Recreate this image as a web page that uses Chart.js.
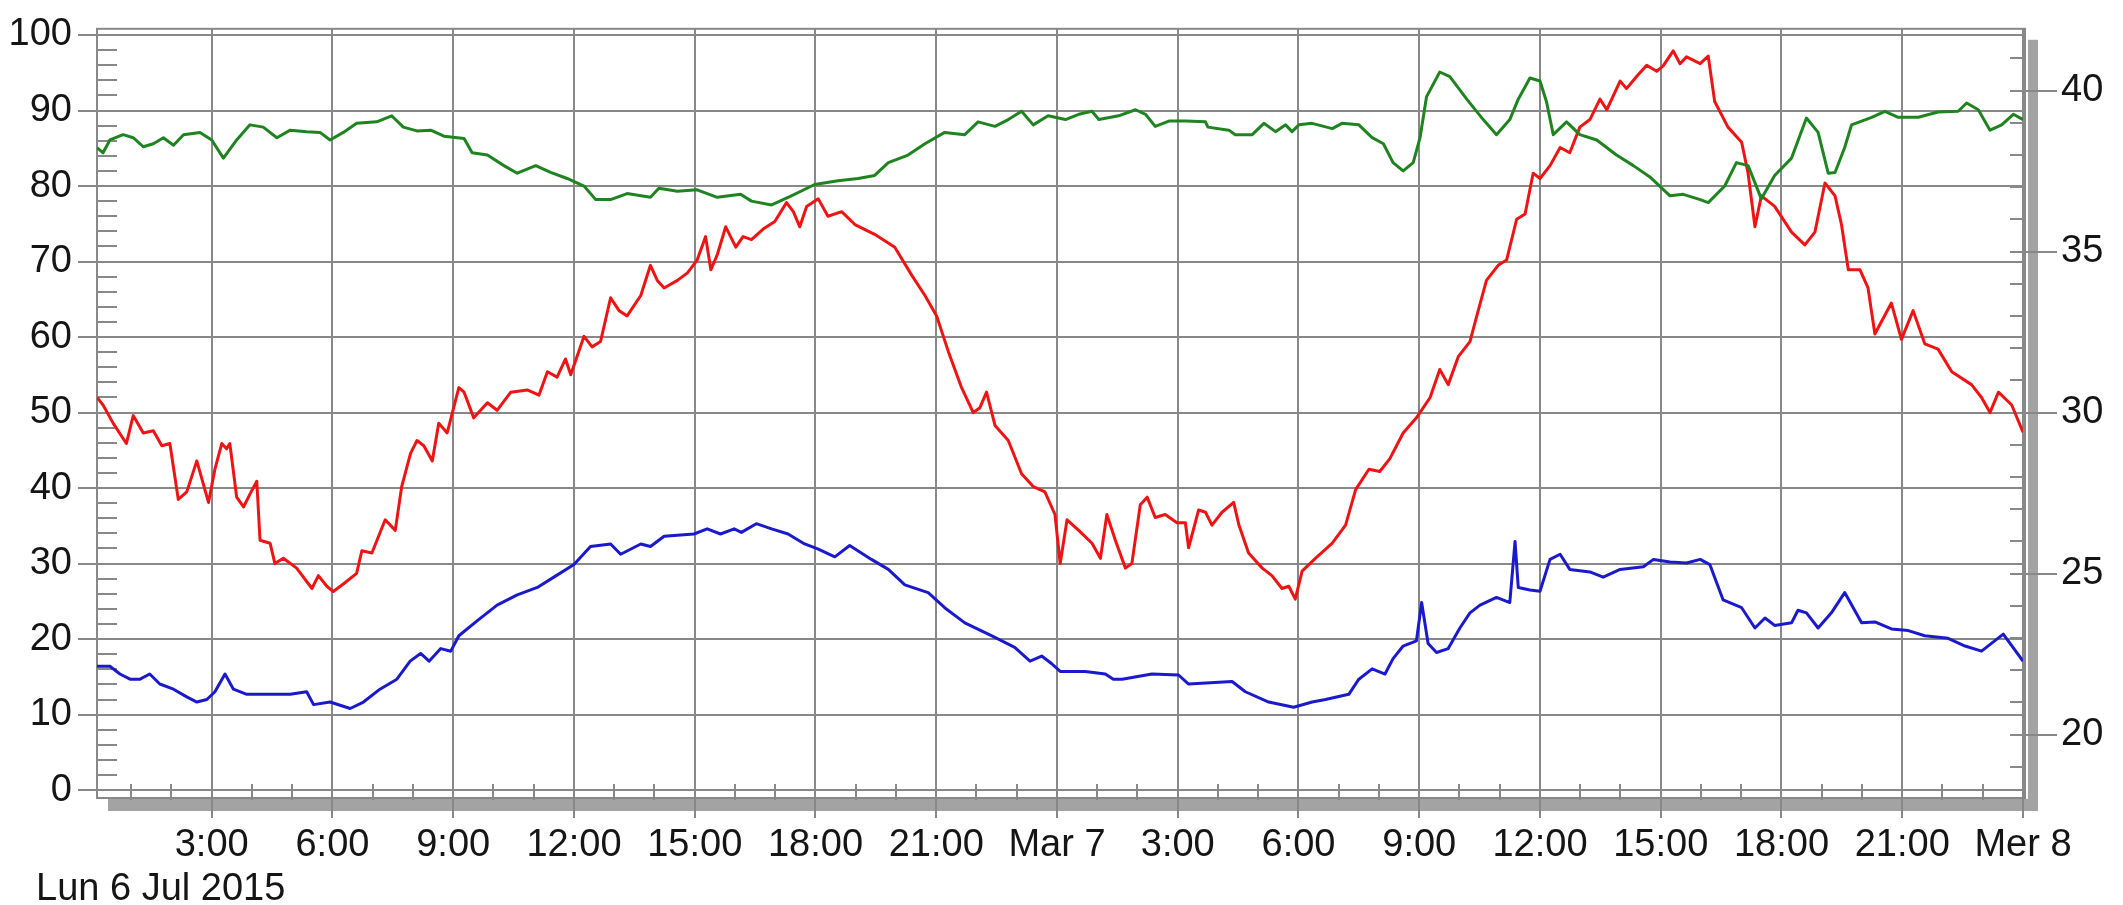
<!DOCTYPE html>
<html><head><meta charset="utf-8">
<script src="https://cdn.jsdelivr.net/npm/chart.js@4/dist/chart.umd.min.js"></script>
<style>html,body{margin:0;padding:0;background:#fff;overflow:hidden}#wrap{width:2123px;height:905px}</style>
</head><body><div id="wrap"><canvas id="c" width="2123" height="905"></canvas></div>
<script>
// ---- tick labels ----
const xTickHours = [3,6,9,12,15,18,21,24,27,30,33,36,39,42,45,48];
const xTickLabels = ["3:00","6:00","9:00","12:00","15:00","18:00","21:00","Mar 7","3:00","6:00","9:00","12:00","15:00","18:00","21:00","Mer 8"];
const dateLabel = "Lun 6 Jul 2015";
const leftTicks = [0,10,20,30,40,50,60,70,80,90,100];
const rightTicks = [20,25,30,35,40];

// ---- series (hours since Lun 6 Jul 00:00) ----
const greenHours = [0.15,0.30,0.47,0.80,1.05,1.30,1.55,1.80,2.05,2.30,2.71,3.00,3.29,3.62,3.95,4.28,4.62,4.95,5.36,5.69,5.94,6.27,6.60,7.10,7.47,7.76,8.10,8.44,8.77,9.27,9.47,9.85,10.26,10.59,11.05,11.42,11.83,12.25,12.54,12.91,13.32,13.90,14.11,14.57,15.06,15.56,16.14,16.41,16.91,17.40,17.98,18.56,19.06,19.47,19.81,20.30,20.72,21.21,21.71,22.04,22.46,22.79,23.12,23.41,23.78,24.21,24.54,24.87,25.04,25.53,25.95,26.20,26.44,26.78,27.19,27.69,27.75,28.27,28.43,28.85,29.14,29.43,29.68,29.84,30.01,30.34,30.84,31.08,31.50,31.83,32.11,32.35,32.60,32.85,33.02,33.18,33.51,33.76,34.18,34.59,34.92,35.25,35.46,35.75,36.00,36.16,36.33,36.66,36.99,37.41,37.90,38.32,38.73,39.23,39.56,39.98,40.18,40.59,40.88,41.17,41.50,41.83,42.25,42.62,42.91,43.16,43.33,43.57,43.74,44.24,44.57,44.90,45.40,45.89,46.39,46.60,46.89,47.18,47.47,47.76,48.00];
const greenValues = [85.1,84.4,86.1,86.8,86.4,85.2,85.6,86.4,85.4,86.8,87.1,86.1,83.7,86.1,88.1,87.8,86.4,87.4,87.2,87.1,86.1,87.1,88.3,88.5,89.3,87.8,87.3,87.4,86.6,86.3,84.4,84.1,82.7,81.7,82.7,81.8,81.0,80.0,78.2,78.2,79.0,78.5,79.7,79.3,79.5,78.5,78.9,78.0,77.5,78.7,80.2,80.7,81.0,81.4,83.1,84.1,85.6,87.1,86.8,88.5,87.9,88.8,89.9,88.1,89.3,88.8,89.5,89.9,88.8,89.3,90.1,89.5,87.9,88.6,88.6,88.5,87.8,87.4,86.8,86.8,88.3,87.2,88.1,87.2,88.1,88.3,87.6,88.3,88.1,86.4,85.6,83.1,82.0,83.1,86.4,91.8,95.1,94.5,91.5,88.8,86.8,88.8,91.5,94.3,93.9,91.2,86.8,88.5,86.8,86.1,84.1,82.7,81.2,78.7,78.9,78.2,77.8,80.0,83.1,82.7,78.3,81.4,83.7,89.0,87.1,81.7,81.8,85.1,88.1,89.1,89.9,89.1,89.1,89.8,89.9,91.0,90.1,87.4,88.1,89.5,88.8];

const redHours = [0.15,0.30,0.55,0.88,1.05,1.30,1.55,1.76,1.96,2.17,2.38,2.63,2.92,3.08,3.25,3.37,3.45,3.62,3.79,3.95,4.12,4.20,4.45,4.57,4.78,5.11,5.49,5.65,5.86,6.02,6.27,6.60,6.73,6.98,7.31,7.56,7.72,7.94,8.10,8.27,8.48,8.64,8.85,9.14,9.27,9.51,9.85,10.09,10.43,10.84,11.13,11.34,11.58,11.79,11.92,12.25,12.45,12.66,12.91,13.12,13.32,13.66,13.90,14.07,14.24,14.57,14.82,15.06,15.27,15.40,15.56,15.77,16.02,16.20,16.41,16.70,16.99,17.28,17.45,17.61,17.78,18.07,18.31,18.65,18.98,19.47,19.97,20.39,20.72,21.01,21.30,21.63,21.92,22.08,22.25,22.46,22.79,23.12,23.41,23.70,23.95,24.08,24.25,24.54,24.87,25.08,25.24,25.45,25.70,25.86,26.07,26.24,26.44,26.69,26.98,27.19,27.27,27.52,27.69,27.85,28.10,28.39,28.52,28.76,29.10,29.34,29.59,29.76,29.92,30.09,30.42,30.84,31.17,31.42,31.75,32.02,32.27,32.60,32.93,33.27,33.51,33.72,33.97,34.26,34.43,34.67,34.96,35.17,35.42,35.63,35.83,36.00,36.25,36.50,36.74,36.99,37.24,37.49,37.66,37.99,38.15,38.40,38.65,38.90,39.06,39.31,39.48,39.64,39.98,40.18,40.34,40.67,41.01,41.17,41.34,41.50,41.83,42.25,42.58,42.83,43.08,43.33,43.49,43.66,43.95,44.15,44.32,44.73,44.98,45.27,45.56,45.89,46.23,46.72,46.97,47.18,47.39,47.72,48.00];
const redValues = [52.0,51.0,48.6,45.9,49.6,47.3,47.6,45.6,45.9,38.5,39.5,43.6,38.1,42.5,45.9,45.2,45.9,38.8,37.5,39.2,40.9,33.1,32.7,30.0,30.7,29.4,26.7,28.4,27.0,26.3,27.3,28.7,31.7,31.4,35.8,34.4,40.2,44.6,46.3,45.6,43.6,48.6,47.3,53.3,52.7,49.3,51.3,50.3,52.7,53.0,52.3,55.4,54.7,57.1,55.0,60.1,58.7,59.4,65.2,63.5,62.8,65.5,69.5,67.5,66.5,67.5,68.5,70.2,73.3,68.9,70.9,74.6,71.9,73.3,72.9,74.3,75.3,77.8,76.6,74.6,77.3,78.3,76.0,76.6,74.9,73.6,71.9,68.2,65.5,62.8,58.1,53.3,50.0,50.6,52.7,48.3,46.3,41.9,40.2,39.5,36.5,30.0,35.8,34.4,32.7,30.7,36.5,33.1,29.4,30.0,37.8,38.8,36.1,36.5,35.4,35.4,32.1,37.1,36.8,35.1,36.8,38.1,35.1,31.4,29.4,28.4,26.7,27.0,25.3,29.0,30.7,32.7,35.1,39.8,42.5,42.2,43.9,47.3,49.3,52.0,55.7,53.7,57.4,59.4,62.8,67.5,69.5,70.2,75.6,76.3,81.7,81.0,82.7,85.1,84.4,87.8,88.8,91.5,90.1,93.9,92.9,94.5,96.0,95.2,95.9,97.9,96.2,97.1,96.2,97.2,91.2,87.8,85.8,81.7,74.6,78.7,77.3,73.9,72.2,73.9,80.4,78.7,74.9,68.9,68.9,66.5,60.4,64.5,59.7,63.5,59.1,58.4,55.4,53.7,52.0,50.0,52.7,51.0,47.4];

const blueHours = [0.15,0.47,0.72,0.97,1.22,1.46,1.71,2.05,2.38,2.63,2.88,3.08,3.33,3.54,3.87,4.28,4.95,5.36,5.53,5.94,6.44,6.77,7.18,7.60,7.93,8.19,8.40,8.69,8.94,9.14,9.60,10.09,10.59,11.09,11.50,12.00,12.41,12.91,13.16,13.66,13.90,14.24,14.98,15.31,15.64,15.98,16.16,16.53,16.91,17.32,17.73,18.07,18.48,18.85,19.39,19.81,20.22,20.80,21.21,21.71,22.37,22.95,23.33,23.62,23.87,24.08,24.70,25.20,25.40,25.62,26.36,27.02,27.27,28.35,28.68,29.26,29.88,30.34,30.67,31.25,31.50,31.83,32.15,32.35,32.60,32.93,33.06,33.22,33.43,33.72,34.01,34.26,34.51,34.92,35.25,35.38,35.46,35.75,36.00,36.25,36.50,36.74,37.24,37.57,37.99,38.57,38.82,39.23,39.64,39.98,40.22,40.55,41.01,41.34,41.59,41.83,42.25,42.41,42.62,42.91,43.24,43.57,43.99,44.32,44.73,45.15,45.56,46.14,46.56,46.97,47.51,48.00];
const blueValues = [22.12,22.12,21.88,21.72,21.72,21.88,21.57,21.41,21.17,21.01,21.09,21.33,21.88,21.41,21.25,21.25,21.25,21.33,20.93,21.01,20.81,21.01,21.41,21.72,22.28,22.52,22.28,22.67,22.59,23.07,23.54,24.02,24.34,24.57,24.89,25.28,25.84,25.92,25.60,25.92,25.84,26.16,26.23,26.39,26.23,26.39,26.28,26.55,26.39,26.23,25.92,25.76,25.52,25.87,25.44,25.13,24.65,24.41,23.94,23.47,23.07,22.71,22.28,22.44,22.20,21.96,21.96,21.88,21.72,21.72,21.88,21.85,21.57,21.65,21.33,21.01,20.85,21.01,21.09,21.25,21.72,22.04,21.88,22.36,22.75,22.91,24.10,22.83,22.55,22.67,23.31,23.78,24.02,24.26,24.10,26.00,24.57,24.49,24.45,25.44,25.60,25.13,25.05,24.89,25.13,25.21,25.44,25.36,25.33,25.44,25.28,24.18,23.94,23.31,23.62,23.39,23.47,23.86,23.78,23.31,23.78,24.41,23.47,23.50,23.28,23.23,23.07,22.99,22.75,22.59,23.12,22.28];

// ---- styling ----
const FONT = "'Liberation Sans', Arial, sans-serif";
const GRID = '#888888';
const TXT = '#151515';

const toPts = (hs, vs) => hs.map((h, i) => ({x: h, y: vs[i]}));

const framePlugin = {
  id: 'frame',
  beforeDraw(chart) {
    const {ctx, chartArea: a} = chart;
    ctx.save();
    ctx.fillStyle = '#a3a3a3';
    ctx.fillRect(a.left + 11, a.bottom + 1, a.right - a.left + 4, 12);
    ctx.fillRect(a.right + 5, a.top + 11, 10, a.bottom - a.top + 2);
    ctx.restore();
  },
  beforeDatasetsDraw(chart) {
    const {ctx, chartArea: a, scales} = chart;
    ctx.save();
    ctx.strokeStyle = GRID;
    ctx.lineWidth = 2;
    ctx.strokeRect(a.left, a.top, a.right - a.left + 2, a.bottom - a.top);
    ctx.beginPath();
    for (let v = 2; v < 100; v += 2) {
      if (v % 10 === 0) continue;
      const y = Math.round(scales.y.getPixelForValue(v));
      ctx.moveTo(a.left, y); ctx.lineTo(a.left + 20, y);
    }
    for (let v = 19; v <= 41; v += 1) {
      const y = Math.round(scales.y2.getPixelForValue(v));
      ctx.moveTo(a.right - 13, y); ctx.lineTo(a.right, y);
    }
    for (let h = 1; h < 48; h++) {
      if (h % 3 === 0) continue;
      const x = Math.round(scales.x.getPixelForValue(h));
      ctx.moveTo(x, a.bottom + 2); ctx.lineTo(x, a.bottom - 14);
    }
    ctx.stroke();
    ctx.restore();
  },
  afterDraw(chart) {
    const {ctx} = chart;
    ctx.save();
    ctx.fillStyle = TXT;
    ctx.font = '38px ' + FONT;
    ctx.textBaseline = 'alphabetic';
    ctx.textAlign = 'left';
    ctx.fillText(dateLabel, 36, 900);
    ctx.restore();
  }
};

new Chart(document.getElementById('c'), {
  type: 'line',
  data: {
    datasets: [
      {label: 'green', data: toPts(greenHours, greenValues), borderColor: '#1f841f', yAxisID: 'y'},
      {label: 'red', data: toPts(redHours, redValues), borderColor: '#ee1414', yAxisID: 'y'},
      {label: 'blue', data: toPts(blueHours, blueValues), borderColor: '#1a1acc', yAxisID: 'y2'}
    ]
  },
  options: {
    responsive: false,
    animation: false,
    devicePixelRatio: 1,
    layout: {padding: {top: 17, left: 0, right: 0, bottom: 0}, autoPadding: false},
    elements: {point: {radius: 0}, line: {borderWidth: 3, tension: 0, borderJoinStyle: 'round'}},
    plugins: {legend: {display: false}, tooltip: {enabled: false}, title: {display: false}},
    scales: {
      x: {
        type: 'linear', position: 'bottom', min: 0.15, max: 48,
        afterBuildTicks: s => { s.ticks = xTickHours.map(v => ({value: v})); },
        afterFit: s => { s.height = 107; },
        ticks: {autoSkip: false, maxRotation: 0, minRotation: 0, padding: 5, color: TXT,
          font: {family: FONT, size: 38},
          callback: (v, i) => xTickLabels[i]},
        grid: {color: GRID, lineWidth: 2, tickLength: 20},
        border: {display: false}
      },
      y: {
        position: 'left', min: -1.04, max: 100.82,
        afterBuildTicks: s => { s.ticks = leftTicks.map(v => ({value: v})); },
        afterFit: s => { s.width = 97; },
        ticks: {padding: 6, color: TXT, font: {family: FONT, size: 38}},
        grid: {color: GRID, lineWidth: 2, tickLength: 19},
        border: {display: false}
      },
      y2: {
        position: 'right', min: 18.03, max: 41.92,
        afterBuildTicks: s => { s.ticks = rightTicks.map(v => ({value: v})); },
        afterFit: s => { s.width = 100; },
        ticks: {padding: 4, color: TXT, font: {family: FONT, size: 38}},
        grid: {drawOnChartArea: false, color: GRID, lineWidth: 2, tickLength: 34},
        border: {display: false}
      }
    }
  },
  plugins: [framePlugin]
});
</script>
</body></html>
